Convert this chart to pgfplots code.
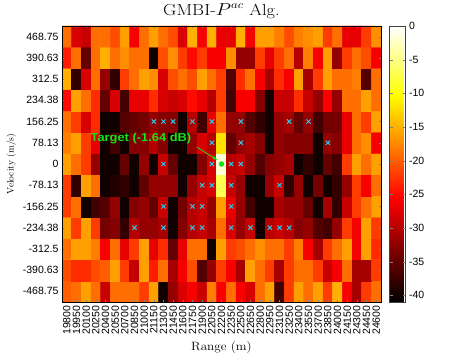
\documentclass[border=0pt]{standalone}
\usepackage{fontspec}
\setsansfont{Liberation Sans}
\usepackage{pgfplots}
\pgfplotsset{compat=1.18}
\usetikzlibrary{arrows.meta}

% MATLAB "hot"
\pgfplotsset{colormap={hotm}{rgb255(0cm)=(0,0,0) rgb255(3cm)=(255,0,0) rgb255(6cm)=(255,255,0) rgb255(8cm)=(255,255,255)}}
\definecolor{xcyan}{RGB}{40,200,230}
\definecolor{tgreen}{RGB}{20,230,20}

\begin{document}
\begin{tikzpicture}
\useasboundingbox (0,0) rectangle (471pt,353pt);
\begin{axis}[
  at={(62pt,51pt)}, anchor=south west,
  scale only axis, width=319pt, height=276pt,
  xmin=19725, xmax=24675, ymin=-507.8125, ymax=507.8125,
  enlargelimits=false,
  scaled x ticks=false, scaled y ticks=false,
  axis on top,
  colormap name=hotm,
  point meta min=-41, point meta max=0,
  tick align=inside, major tick length=2pt,
  xtick={19800,19950,...,24600},
  xticklabels={19800,19950,20100,20250,20400,20550,20700,20850,21000,21150,21300,21450,21600,21750,21900,22050,22200,22350,22500,22650,22800,22950,23100,23250,23400,23550,23700,23850,24000,24150,24300,24450,24600},
  xticklabel style={rotate=90, anchor=east},
  ytick={-468.75,-390.625,-312.5,-234.375,-156.25,-78.125,0,78.125,156.25,234.375,312.5,390.625,468.75},
  yticklabels={-468.75,-390.63,-312.5,-234.38,-156.25,-78.13,0,78.13,156.25,234.38,312.5,390.63,468.75},
  tick label style={font=\sffamily\fontsize{10.5}{12}\selectfont},
  xlabel={Range (m)}, ylabel={Velocity (m/s)},
  xlabel style={font=\fontsize{12}{14}\selectfont, xscale=1.1},
  ylabel style={font=\fontsize{9.5}{11}\selectfont},
  title={GMBI-$P^{ac}$ Alg.},
  title style={font=\fontsize{16}{18}\selectfont, xscale=1.15, yshift=-2pt},
  colorbar,
  colorbar style={
    at={([xshift=14pt]parent axis.north east)}, anchor=north west, xshift=0pt,
    width=16pt,
    ytick={-40,-35,...,0},
    yticklabels={-40,-35,-30,-25,-20,-15,-10,-5,0},
    tick align=inside, major tick length=3pt,
    axis line style={darkgray},
    yticklabel style={font=\sffamily\fontsize{10.5}{12}\selectfont},
  },
]
\addplot[matrix plot*, mesh/cols=33, point meta=explicit] coordinates {
(19800,-468.75)[-20] (19950,-468.75)[-19] (20100,-468.75)[-16] (20250,-468.75)[-19] (20400,-468.75)[-29] (20550,-468.75)[-19] (20700,-468.75)[-19] (20850,-468.75)[-19] (21000,-468.75)[-22] (21150,-468.75)[-16] (21300,-468.75)[-40] (21450,-468.75)[-32] (21600,-468.75)[-28] (21750,-468.75)[-26] (21900,-468.75)[-29] (22050,-468.75)[-18] (22200,-468.75)[-26] (22350,-468.75)[-19] (22500,-468.75)[-26] (22650,-468.75)[-28] (22800,-468.75)[-19] (22950,-468.75)[-16] (23100,-468.75)[-37] (23250,-468.75)[-22] (23400,-468.75)[-16] (23550,-468.75)[-19] (23700,-468.75)[-16] (23850,-468.75)[-22] (24000,-468.75)[-15] (24150,-468.75)[-26] (24300,-468.75)[-31] (24450,-468.75)[-22] (24600,-468.75)[-19]

(19800,-390.625)[-21] (19950,-390.625)[-23] (20100,-390.625)[-23] (20250,-390.625)[-21] (20400,-390.625)[-20] (20550,-390.625)[-16] (20700,-390.625)[-22] (20850,-390.625)[-29] (21000,-390.625)[-16] (21150,-390.625)[-24] (21300,-390.625)[-19] (21450,-390.625)[-31] (21600,-390.625)[-26] (21750,-390.625)[-21] (21900,-390.625)[-36] (22050,-390.625)[-32] (22200,-390.625)[-22] (22350,-390.625)[-26] (22500,-390.625)[-31] (22650,-390.625)[-16] (22800,-390.625)[-19] (22950,-390.625)[-22] (23100,-390.625)[-31] (23250,-390.625)[-22] (23400,-390.625)[-19] (23550,-390.625)[-19] (23700,-390.625)[-22] (23850,-390.625)[-29] (24000,-390.625)[-26] (24150,-390.625)[-19] (24300,-390.625)[-31] (24450,-390.625)[-31] (24600,-390.625)[-22]

(19800,-312.5)[-19] (19950,-312.5)[-16] (20100,-312.5)[-16] (20250,-312.5)[-18] (20400,-312.5)[-26] (20550,-312.5)[-19] (20700,-312.5)[-27] (20850,-312.5)[-22] (21000,-312.5)[-16] (21150,-312.5)[-27] (21300,-312.5)[-23] (21450,-312.5)[-35] (21600,-312.5)[-27] (21750,-312.5)[-19] (21900,-312.5)[-19] (22050,-312.5)[-40] (22200,-312.5)[-16] (22350,-312.5)[-22] (22500,-312.5)[-21] (22650,-312.5)[-19] (22800,-312.5)[-17] (22950,-312.5)[-19] (23100,-312.5)[-19] (23250,-312.5)[-22] (23400,-312.5)[-18] (23550,-312.5)[-26] (23700,-312.5)[-31] (23850,-312.5)[-22] (24000,-312.5)[-19] (24150,-312.5)[-16] (24300,-312.5)[-26] (24450,-312.5)[-16] (24600,-312.5)[-23]

(19800,-234.375)[-16] (19950,-234.375)[-22] (20100,-234.375)[-16] (20250,-234.375)[-22] (20400,-234.375)[-34] (20550,-234.375)[-33] (20700,-234.375)[-38] (20850,-234.375)[-30] (21000,-234.375)[-32] (21150,-234.375)[-32] (21300,-234.375)[-31] (21450,-234.375)[-40] (21600,-234.375)[-33] (21750,-234.375)[-30] (21900,-234.375)[-29] (22050,-234.375)[-31] (22200,-234.375)[-19] (22350,-234.375)[-28] (22500,-234.375)[-32] (22650,-234.375)[-29] (22800,-234.375)[-40] (22950,-234.375)[-30] (23100,-234.375)[-29] (23250,-234.375)[-30] (23400,-234.375)[-33] (23550,-234.375)[-32] (23700,-234.375)[-36] (23850,-234.375)[-37] (24000,-234.375)[-32] (24150,-234.375)[-22] (24300,-234.375)[-26] (24450,-234.375)[-16] (24600,-234.375)[-22]

(19800,-156.25)[-22] (19950,-156.25)[-19] (20100,-156.25)[-40] (20250,-156.25)[-37] (20400,-156.25)[-36] (20550,-156.25)[-32] (20700,-156.25)[-40] (20850,-156.25)[-33] (21000,-156.25)[-32] (21150,-156.25)[-35] (21300,-156.25)[-29] (21450,-156.25)[-40] (21600,-156.25)[-34] (21750,-156.25)[-30] (21900,-156.25)[-29] (22050,-156.25)[-32] (22200,-156.25)[-16] (22350,-156.25)[-27] (22500,-156.25)[-32] (22650,-156.25)[-37] (22800,-156.25)[-40] (22950,-156.25)[-40] (23100,-156.25)[-31] (23250,-156.25)[-32] (23400,-156.25)[-32] (23550,-156.25)[-35] (23700,-156.25)[-40] (23850,-156.25)[-31] (24000,-156.25)[-38] (24150,-156.25)[-29] (24300,-156.25)[-22] (24450,-156.25)[-19] (24600,-156.25)[-16]

(19800,-78.125)[-22] (19950,-78.125)[-38] (20100,-78.125)[-16] (20250,-78.125)[-19] (20400,-78.125)[-40] (20550,-78.125)[-39] (20700,-78.125)[-38] (20850,-78.125)[-40] (21000,-78.125)[-35] (21150,-78.125)[-32] (21300,-78.125)[-32] (21450,-78.125)[-32] (21600,-78.125)[-40] (21750,-78.125)[-32] (21900,-78.125)[-29] (22050,-78.125)[-28] (22200,-78.125)[-7] (22350,-78.125)[-29] (22500,-78.125)[-32] (22650,-78.125)[-40] (22800,-78.125)[-40] (22950,-78.125)[-32] (23100,-78.125)[-29] (23250,-78.125)[-38] (23400,-78.125)[-32] (23550,-78.125)[-40] (23700,-78.125)[-34] (23850,-78.125)[-40] (24000,-78.125)[-38] (24150,-78.125)[-32] (24300,-78.125)[-22] (24450,-78.125)[-26] (24600,-78.125)[-19]

(19800,0)[-16] (19950,0)[-19] (20100,0)[-22] (20250,0)[-32] (20400,0)[-40] (20550,0)[-40] (20700,0)[-35] (20850,0)[-40] (21000,0)[-32] (21150,0)[-40] (21300,0)[-29] (21450,0)[-35] (21600,0)[-40] (21750,0)[-40] (21900,0)[-33] (22050,0)[-28] (22200,0)[-1.64] (22350,0)[-30] (22500,0)[-29] (22650,0)[-32] (22800,0)[-36] (22950,0)[-33] (23100,0)[-32] (23250,0)[-31] (23400,0)[-40] (23550,0)[-38] (23700,0)[-40] (23850,0)[-35] (24000,0)[-37] (24150,0)[-22] (24300,0)[-16] (24450,0)[-19] (24600,0)[-16]

(19800,78.125)[-18] (19950,78.125)[-16] (20100,78.125)[-22] (20250,78.125)[-27] (20400,78.125)[-40] (20550,78.125)[-37] (20700,78.125)[-40] (20850,78.125)[-33] (21000,78.125)[-33] (21150,78.125)[-30] (21300,78.125)[-33] (21450,78.125)[-40] (21600,78.125)[-40] (21750,78.125)[-32] (21900,78.125)[-28] (22050,78.125)[-30] (22200,78.125)[-12] (22350,78.125)[-35] (22500,78.125)[-32] (22650,78.125)[-31] (22800,78.125)[-33] (22950,78.125)[-40] (23100,78.125)[-32] (23250,78.125)[-33] (23400,78.125)[-33] (23550,78.125)[-33] (23700,78.125)[-40] (23850,78.125)[-32] (24000,78.125)[-33] (24150,78.125)[-27] (24300,78.125)[-19] (24450,78.125)[-17] (24600,78.125)[-26]

(19800,156.25)[-19] (19950,156.25)[-22] (20100,156.25)[-28] (20250,156.25)[-23] (20400,156.25)[-40] (20550,156.25)[-40] (20700,156.25)[-36] (20850,156.25)[-35] (21000,156.25)[-34] (21150,156.25)[-32] (21300,156.25)[-33] (21450,156.25)[-33] (21600,156.25)[-40] (21750,156.25)[-30] (21900,156.25)[-37] (22050,156.25)[-27] (22200,156.25)[-19] (22350,156.25)[-32] (22500,156.25)[-32] (22650,156.25)[-36] (22800,156.25)[-38] (22950,156.25)[-40] (23100,156.25)[-32] (23250,156.25)[-31] (23400,156.25)[-35] (23550,156.25)[-32] (23700,156.25)[-37] (23850,156.25)[-34] (24000,156.25)[-34] (24150,156.25)[-27] (24300,156.25)[-19] (24450,156.25)[-22] (24600,156.25)[-16]

(19800,234.375)[-25] (19950,234.375)[-16] (20100,234.375)[-19] (20250,234.375)[-23] (20400,234.375)[-35] (20550,234.375)[-28] (20700,234.375)[-37] (20850,234.375)[-27] (21000,234.375)[-27] (21150,234.375)[-23] (21300,234.375)[-28] (21450,234.375)[-29] (21600,234.375)[-28] (21750,234.375)[-25] (21900,234.375)[-27] (22050,234.375)[-30] (22200,234.375)[-22] (22350,234.375)[-37] (22500,234.375)[-26] (22650,234.375)[-26] (22800,234.375)[-33] (22950,234.375)[-40] (23100,234.375)[-29] (23250,234.375)[-29] (23400,234.375)[-23] (23550,234.375)[-29] (23700,234.375)[-32] (23850,234.375)[-26] (24000,234.375)[-32] (24150,234.375)[-19] (24300,234.375)[-19] (24450,234.375)[-16] (24600,234.375)[-19]

(19800,312.5)[-15] (19950,312.5)[-38] (20100,312.5)[-28] (20250,312.5)[-19] (20400,312.5)[-32] (20550,312.5)[-38] (20700,312.5)[-22] (20850,312.5)[-19] (21000,312.5)[-16] (21150,312.5)[-17] (21300,312.5)[-28] (21450,312.5)[-21] (21600,312.5)[-19] (21750,312.5)[-21] (21900,312.5)[-16] (22050,312.5)[-19] (22200,312.5)[-22] (22350,312.5)[-36] (22500,312.5)[-23] (22650,312.5)[-19] (22800,312.5)[-26] (22950,312.5)[-31] (23100,312.5)[-23] (23250,312.5)[-26] (23400,312.5)[-16] (23550,312.5)[-31] (23700,312.5)[-22] (23850,312.5)[-16] (24000,312.5)[-19] (24150,312.5)[-19] (24300,312.5)[-18] (24450,312.5)[-36] (24600,312.5)[-19]

(19800,390.625)[-24] (19950,390.625)[-19] (20100,390.625)[-35] (20250,390.625)[-19] (20400,390.625)[-15] (20550,390.625)[-19] (20700,390.625)[-17] (20850,390.625)[-19] (21000,390.625)[-19] (21150,390.625)[-40] (21300,390.625)[-21] (21450,390.625)[-17] (21600,390.625)[-22] (21750,390.625)[-25] (21900,390.625)[-22] (22050,390.625)[-26] (22200,390.625)[-26] (22350,390.625)[-17] (22500,390.625)[-32] (22650,390.625)[-32] (22800,390.625)[-22] (22950,390.625)[-27] (23100,390.625)[-22] (23250,390.625)[-19] (23400,390.625)[-30] (23550,390.625)[-18] (23700,390.625)[-26] (23850,390.625)[-16] (24000,390.625)[-32] (24150,390.625)[-22] (24300,390.625)[-19] (24450,390.625)[-21] (24600,390.625)[-26]

(19800,468.75)[-19] (19950,468.75)[-28] (20100,468.75)[-29] (20250,468.75)[-19] (20400,468.75)[-19] (20550,468.75)[-21] (20700,468.75)[-16] (20850,468.75)[-26] (21000,468.75)[-19] (21150,468.75)[-16] (21300,468.75)[-19] (21450,468.75)[-21] (21600,468.75)[-28] (21750,468.75)[-15] (21900,468.75)[-26] (22050,468.75)[-15] (22200,468.75)[-27] (22350,468.75)[-27] (22500,468.75)[-15] (22650,468.75)[-26] (22800,468.75)[-16] (22950,468.75)[-16] (23100,468.75)[-18] (23250,468.75)[-21] (23400,468.75)[-18] (23550,468.75)[-17] (23700,468.75)[-16] (23850,468.75)[-22] (24000,468.75)[-19] (24150,468.75)[-27] (24300,468.75)[-27] (24450,468.75)[-22] (24600,468.75)[-17]
};
% detections
\addplot[only marks, mark=x, mark size=3pt, line width=1pt, color=xcyan] coordinates {
(21150,156.25) (21300,156.25) (21450,156.25) (21750,156.25) (22050,156.25) (22500,156.25) (23250,156.25) (23550,156.25)
(22050,78.125) (22500,78.125) (23850,78.125)
(21300,0) (22050,0) (22350,0) (22500,0)
(21900,-78.125) (22050,-78.125) (22350,-78.125) (23100,-78.125)
(21300,-156.25) (21750,-156.25) (21900,-156.25) (22350,-156.25)
(20850,-234.375) (21300,-234.375) (21750,-234.375) (21900,-234.375) (22350,-234.375) (22650,-234.375) (22950,-234.375) (23100,-234.375) (23250,-234.375)
};
% target
\addplot[only marks, mark=*, mark size=2.5pt, color=tgreen] coordinates {(22200,0)};
\draw[-{Latex[length=5pt]}, tgreen, line width=0.8pt] (axis cs:21820,62) -- (axis cs:22140,14);
\node[text=tgreen, font=\sffamily\bfseries\fontsize{11.5}{13}\selectfont, xscale=1.12] at (axis cs:20950,92) {Target (-1.64 dB)};
\end{axis}
\end{tikzpicture}
\end{document}
